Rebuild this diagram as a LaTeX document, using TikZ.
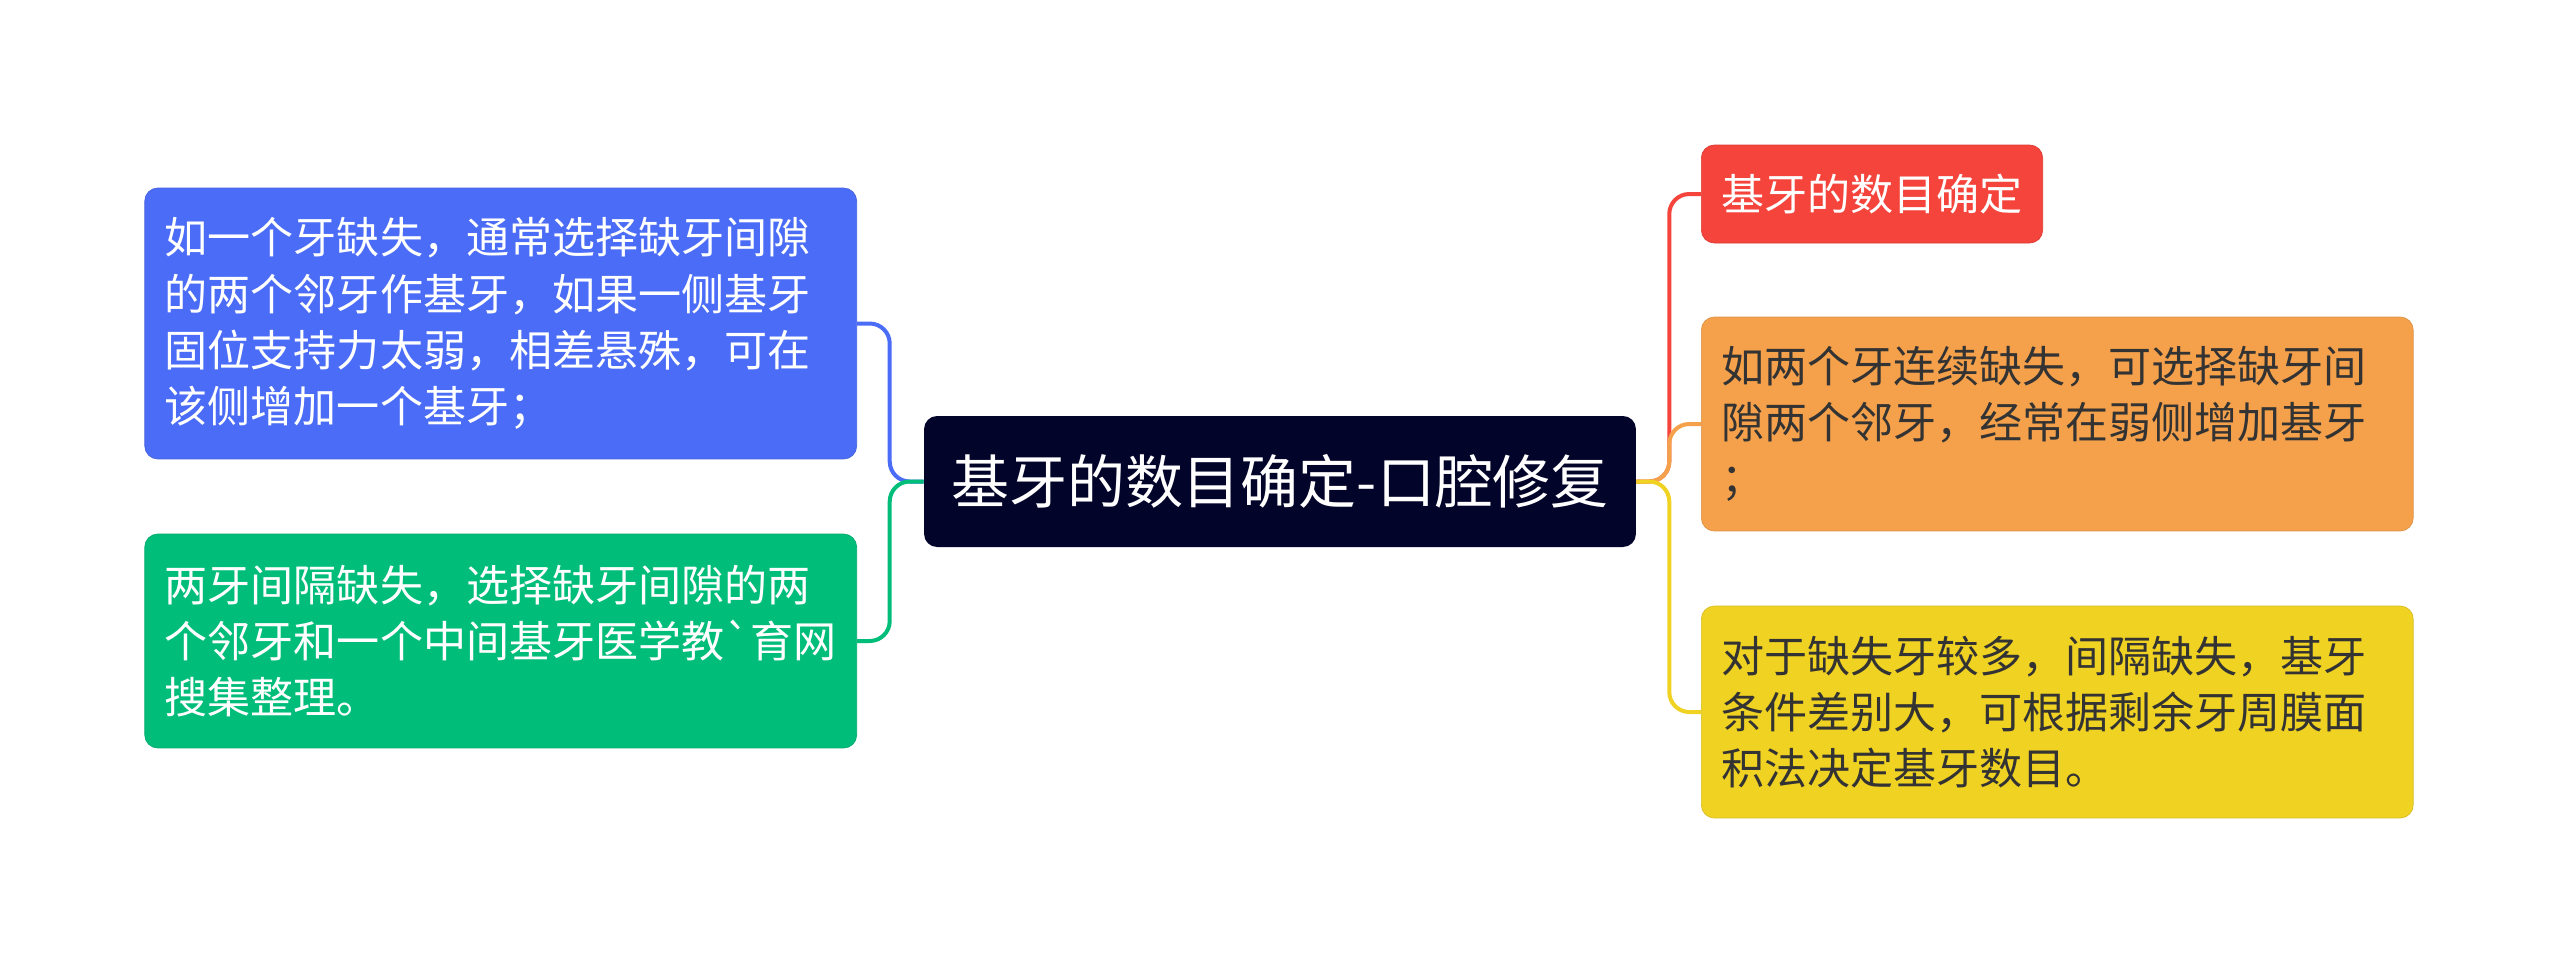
\documentclass[tikz,border=0pt]{standalone}
\usepackage{fontspec}
\setmainfont{Noto Sans CJK SC}[Ligatures=TeXOff]
\usepackage{xcolor}
\definecolor{root-navy}{HTML}{03042A}
\definecolor{leaf-blue}{HTML}{4B6CF7}
\definecolor{leaf-green}{HTML}{00BD7A}
\definecolor{leaf-red}{HTML}{F5443C}
\definecolor{leaf-orange}{HTML}{F5A14B}
\definecolor{leaf-yellow}{HTML}{F0D223}
\definecolor{leaf-text}{HTML}{333333}

\begin{document}
\begin{tikzpicture}[x=0.02cm, y=-0.02cm,
      every node/.style={font=\fontsize{24.5pt}{32pt}\selectfont},
      topic/.style={fill=root-navy, text=white, rounded corners=0.26cm,
          minimum width=14.24cm, minimum height=2.62cm,
          font=\fontsize{33pt}{40pt}\selectfont},
      leaf/.style={rounded corners=0.26cm, inner xsep=0.4cm, inner ysep=0pt,
          text width=13.44cm, align=left},
      link/.style={line width=0.08cm, rounded corners=0.4cm}]
    \fill[white] (0,0) rectangle (2560,965);
    \node[topic] (root) at (1280,481.5) {基牙的数目确定-口腔修复};
    \node[leaf, fill=leaf-blue, draw=leaf-blue!90!black, text=white,
          minimum height=5.42cm, anchor=east] (L1) at (857,323.5)
          {如一个牙缺失，通常选择缺牙间隙\\的两个邻牙作基牙，如果一侧基牙\\固位支持力太弱，相差悬殊，可在\\该侧增加一个基牙；};
    \node[leaf, fill=leaf-green, draw=leaf-green!90!black, text=white,
          minimum height=4.28cm, anchor=east] (L2) at (857,641)
          {两牙间隔缺失，选择缺牙间隙的两\\个邻牙和一个中间基牙医学教`育网\\搜集整理。};
    \node[fill=leaf-red, draw=leaf-red!90!black, text=white, rounded corners=0.26cm,
          inner xsep=0.4cm, minimum height=1.96cm, anchor=west] (R1) at (1701,194)
          {基牙的数目确定};
    \node[leaf, fill=leaf-orange, draw=leaf-orange!90!black, text=leaf-text,
          minimum height=4.28cm, anchor=west] (R2) at (1701,424)
          {如两个牙连续缺失，可选择缺牙间\\隙两个邻牙，经常在弱侧增加基牙\\；};
    \node[leaf, fill=leaf-yellow, draw=leaf-yellow!90!black, text=leaf-text,
          minimum height=4.24cm, anchor=west] (R3) at (1701,712)
          {对于缺失牙较多，间隔缺失，基牙\\条件差别大，可根据剩余牙周膜面\\积法决定基牙数目。};
    \draw[link, leaf-blue] (root.west) -- ++(-34,0) |- (L1.east);
    \draw[link, leaf-green] (root.west) -- ++(-34,0) |- (L2.east);
    \draw[link, leaf-red] (root.east) -- ++(33,0) |- (R1.west);
    \draw[link, leaf-orange] (root.east) -- ++(33,0) |- (R2.west);
    \draw[link, leaf-yellow] (root.east) -- ++(33,0) |- (R3.west);
  \end{tikzpicture}
\end{document}
